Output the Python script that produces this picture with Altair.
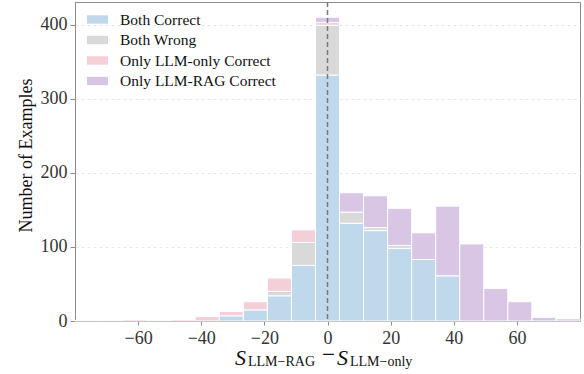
import altair as alt
import pandas as pd

# Histogram bins (21 bins over [-80, 80])
bin_lo = [-80.00, -72.38, -64.76, -57.14, -49.52, -41.90, -34.29, -26.67, -19.05, -11.43,
          -3.81, 3.81, 11.43, 19.05, 26.67, 34.29, 41.90, 49.52, 57.14, 64.76, 72.38]
bin_hi = [-72.38, -64.76, -57.14, -49.52, -41.90, -34.29, -26.67, -19.05, -11.43, -3.81,
          3.81, 11.43, 19.05, 26.67, 34.29, 41.90, 49.52, 57.14, 64.76, 72.38, 80.00]

both_correct = [0, 0, 0, 0, 0, 0, 7, 15, 34, 75, 332, 132, 122, 98, 83, 61, 0, 0, 0, 0, 0]
both_wrong = [1, 1, 0, 1, 0, 0, 0, 0, 6, 31, 67, 15, 4, 4, 0, 0, 0, 0, 0, 0, 0]
only_llm_only = [0, 0, 2, 0, 2, 6, 6, 11, 18, 17, 4, 0, 0, 0, 0, 0, 0, 0, 0, 0, 0]
only_llm_rag = [0, 0, 0, 0, 0, 0, 0, 0, 0, 0, 7, 26, 43, 50, 36, 94, 104, 44, 26, 5, 3]

categories = ["Both Correct", "Both Wrong", "Only LLM-only Correct", "Only LLM-RAG Correct"]
colors = ["#c0d8eb", "#d9d9d9", "#f5cfd8", "#d9c6e5"]
series = [both_correct, both_wrong, only_llm_only, only_llm_rag]

x_ticks = [-60, -40, -20, 0, 20, 40, 60]
y_ticks = [0, 100, 200, 300, 400]

# stack the segments (bottom to top in category order)
rows = []
for i, (lo, hi) in enumerate(zip(bin_lo, bin_hi)):
    base = 0
    for ci, (cat, vals) in enumerate(zip(categories, series)):
        v = vals[i]
        if v > 0:
            rows.append({"lo": lo, "hi": hi, "y0": base, "y1": base + v, "cat": cat})
        base += v
df = pd.DataFrame(rows)

FONT = "Liberation Serif"

bars = alt.Chart(df).mark_rect(stroke="white", strokeWidth=1).encode(
    x=alt.X("lo:Q", scale=alt.Scale(domain=[-80, 80], nice=False, zero=False),
            axis=alt.Axis(values=x_ticks, title=None, grid=False, tickSize=4,
                          labelPadding=4)),
    x2="hi:Q",
    y=alt.Y("y0:Q",
            scale=alt.Scale(domain=[0, 430.5], nice=False),
            axis=alt.Axis(values=y_ticks, title="Number of Examples", grid=True,
                          gridDash=[3, 3], gridColor="#e6e6e6", tickSize=5,
                          labelPadding=3, titlePadding=5, titleY=153)),
    y2="y1:Q",
    color=alt.Color("cat:N", scale=alt.Scale(domain=categories, range=colors),
                    legend=alt.Legend(title=None, orient="none", legendX=12, legendY=7,
                                      symbolType="M-1,-0.4H1V0.4H-1Z", symbolSize=441,
                                      symbolStrokeWidth=0, labelFont=FONT,
                                      labelFontSize=15.5, labelColor="#111",
                                      labelOffset=12, rowPadding=1.5, padding=0)),
)

zero_line = alt.Chart(pd.DataFrame({"x": [0]})).mark_rule(
    color="#7a7a7a", strokeWidth=1.5, strokeDash=[5, 3]
).encode(x="x:Q")

def txt(s, x, y, size, italic=False, align="left"):
    return alt.Chart(pd.DataFrame({"t": [s]})).mark_text(
        font=FONT, fontSize=size, fontStyle="italic" if italic else "normal",
        align=align, baseline="alphabetic", color="#111"
    ).encode(text="t:N", x=alt.value(x), y=alt.value(y))

title_layers = [
    txt("S", 160, 362.5, 22, italic=True),
    txt("LLM\u2212RAG", 173, 363.5, 14),
    txt("\u2212", 253.5, 360, 23, align="center"),
    txt("S", 262, 362.5, 22, italic=True),
    txt("LLM\u2212only", 275, 363.5, 14),
]

chart = alt.layer(bars, zero_line, *title_layers).properties(
    width=505, height=319, autosize="none",
    padding={"left": 75, "top": 2, "right": 4, "bottom": 53},
).configure_view(
    stroke="#8c8c8c", strokeWidth=1
).configure_axis(
    labelFont=FONT, labelFontSize=18, labelColor="#333",
    titleFont=FONT, titleFontSize=18, titleFontWeight="normal", titleColor="#111",
    domainColor="#8c8c8c", tickColor="#8c8c8c", domainWidth=1
).configure_legend(
    labelFont=FONT
)

chart.save("out.html", embed_options={"renderer": "svg", "actions": False})
